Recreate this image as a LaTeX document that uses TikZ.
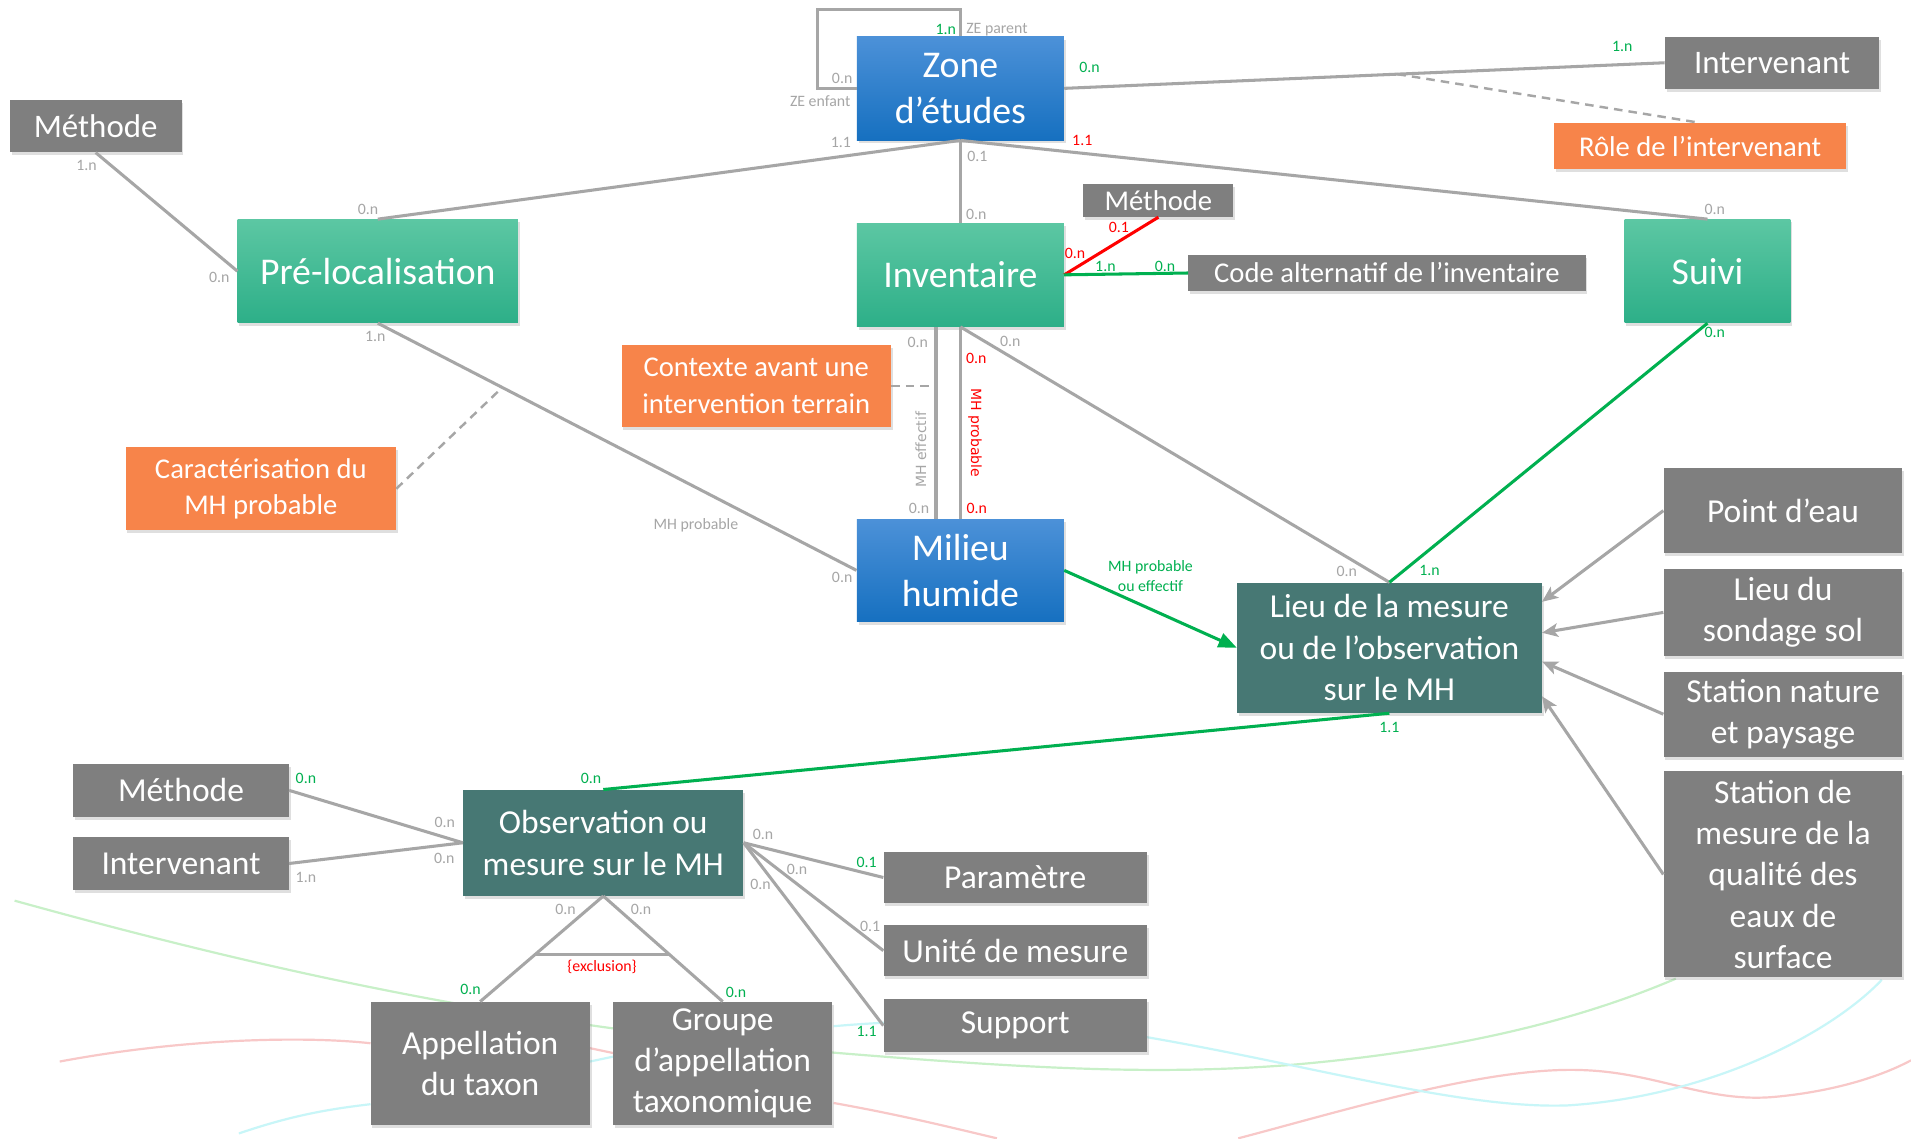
\documentclass[tikz,border=0pt]{standalone}
\usepackage{fontspec}
\setmainfont{Carlito}
\newfontfamily\vfont{DejaVu Sans}
\usetikzlibrary{shadows,arrows.meta,calc}

\definecolor{cblueT}{HTML}{4C91D8}
\definecolor{cblueB}{HTML}{1670C0}
\definecolor{cgreenT}{HTML}{5CC7A3}
\definecolor{cgreenB}{HTML}{2DAF88}
\definecolor{cteal}{HTML}{477874}
\definecolor{cgray}{HTML}{7F7F7F}
\definecolor{corange}{HTML}{F7844A}
\definecolor{lgray}{HTML}{A6A6A6}
\definecolor{lgreen}{HTML}{00B050}
\definecolor{lred}{HTML}{FF0000}
\definecolor{bggreen}{HTML}{C8F0C8}
\definecolor{bgred}{HTML}{F8C8C8}
\definecolor{bgcyan}{HTML}{C8F6F8}

\tikzset{
 ebox/.style={rectangle, inner sep=0pt, text=white, align=center,
   drop shadow={shadow xshift=1.5pt, shadow yshift=-2.5pt, opacity=0.25}},
 bluebox/.style={ebox, top color=cblueT, bottom color=cblueB, font=\fontsize{31}{38}\selectfont},
 greenbox/.style={ebox, top color=cgreenT, bottom color=cgreenB, font=\fontsize{31}{38}\selectfont},
 tealbox/.style={ebox, fill=cteal, font=\fontsize{27.5}{34}\selectfont},
 graybox/.style={ebox, fill=cgray, font=\fontsize{27.5}{34}\selectfont},
 smallgray/.style={ebox, fill=cgray, font=\fontsize{23.5}{28}\selectfont},
 orangebox/.style={ebox, fill=corange, font=\fontsize{23.5}{30}\selectfont},
 lk/.style={draw=lgray, line width=2.5pt},
 lkg/.style={draw=lgreen, line width=2.5pt},
 lkr/.style={draw=lred, line width=2.5pt},
 dsh/.style={draw=lgray, line width=2pt, dash pattern=on 7pt off 5pt},
 lbl/.style={inner sep=0pt, font=\fontsize{13}{15}\selectfont},
 lg/.style={lbl, text=lgray},
 lgn/.style={lbl, text=lgreen},
 lr/.style={lbl, text=lred},
 bgline/.style={line width=1.8pt},
 gtip/.style={-{Triangle[length=15pt,width=12pt]}},
 atip/.style={-{Stealth[length=13pt,width=11pt,inset=3pt]}},
}

\begin{document}
\begin{tikzpicture}[x=1pt,y=-1pt]
\fill[white] (0,0) rectangle (1568,934);
\useasboundingbox (0,0) rectangle (1568,934);

% faint background curves
\draw[bgline, bggreen] (12,739) .. controls (250,805) and (450,845) .. (700,865) .. controls (850,877) and (950,882) .. (1056,874) .. controls (1200,862) and (1300,835) .. (1375,803);
\draw[bgline, bgred] (49,871) .. controls (150,852) and (250,850) .. (304,856);
\draw[bgline, bgred] (484,860) -- (503,864);
\draw[bgline, bgred] (684,905) .. controls (740,915) and (780,925) .. (818,934);
\draw[bgline, bgred] (1016,934) .. controls (1100,912) and (1220,875) .. (1298,878) .. controls (1360,880) and (1400,905) .. (1456,900) .. controls (1500,896) and (1540,885) .. (1568,870);
\draw[bgline, bgcyan] (196,930) .. controls (240,915) and (270,910) .. (304,906);
\draw[bgline, bgcyan] (484,871) -- (503,867);
\draw[bgline, bgcyan] (684,842) .. controls (800,832) and (880,842) .. (941,851) .. controls (1080,875) and (1200,910) .. (1286,907) .. controls (1400,900) and (1500,850) .. (1544,804);

% nodes
\node[bluebox, minimum width=170pt, minimum height=85pt] (zone) at (788,72.5) {Zone\\d’études};
\node[graybox, font=\fontsize{27}{32}\selectfont, minimum width=176pt, minimum height=43pt] (intTop) at (1454,51.5) {Intervenant};
\node[orangebox, minimum width=240pt, minimum height=38pt] (role) at (1395,120) {Rôle de l’intervenant};
\node[graybox, font=\fontsize{27}{32}\selectfont, minimum width=141pt, minimum height=43pt] (methTL) at (78.5,103.5) {Méthode};
\node[greenbox, minimum width=230pt, minimum height=85pt] (preloc) at (310,222.5) {Pré-localisation};
\node[greenbox, minimum width=170pt, minimum height=85pt] (invent) at (788,225.5) {Inventaire};
\node[smallgray, minimum width=123pt, minimum height=27pt] (methInv) at (950.5,164.5) {Méthode};
\node[smallgray, minimum width=326pt, minimum height=30pt] (code) at (1138,224) {Code alternatif de l’inventaire};
\node[greenbox, minimum width=136pt, minimum height=85pt] (suivi) at (1401,222.5) {Suivi};
\node[orangebox, minimum width=221pt, minimum height=67pt] (contexte) at (620.5,316.5) {Contexte avant une\\intervention terrain};
\node[orangebox, minimum width=222pt, minimum height=68pt] (carac) at (214,401) {Caractérisation du\\MH probable};
\node[bluebox, minimum width=170pt, minimum height=84pt] (milieu) at (788,468) {Milieu\\humide};
\node[tealbox, minimum width=250pt, minimum height=107pt] (lieu) at (1140,531.5) {Lieu de la mesure\\ou de l’observation\\sur le MH};
\node[graybox, minimum width=196pt, minimum height=70pt] (ptEau) at (1463,419) {Point d’eau};
\node[graybox, minimum width=196pt, minimum height=71pt] (sondage) at (1463,502.5) {Lieu du\\sondage sol};
\node[graybox, minimum width=196pt, minimum height=70pt] (stNat) at (1463,586) {Station nature\\et paysage};
\node[graybox, minimum width=196pt, minimum height=169pt] (stMes) at (1463,717.5) {Station de\\mesure de la\\qualité des\\eaux de\\surface};
\node[graybox, minimum width=177pt, minimum height=43pt] (methBL) at (148.5,648.5) {Méthode};
\node[graybox, minimum width=177pt, minimum height=43pt] (intBL) at (148.5,708.5) {Intervenant};
\node[tealbox, minimum width=230pt, minimum height=87pt] (obs) at (495,691.5) {Observation ou\\mesure sur le MH};
\node[graybox, minimum width=216pt, minimum height=42pt] (param) at (833,720) {Paramètre};
\node[graybox, minimum width=216pt, minimum height=42pt] (unite) at (833,780) {Unité de mesure};
\node[graybox, minimum width=216pt, minimum height=43pt] (support) at (833,841.5) {Support};
\node[graybox, minimum width=180pt, minimum height=101pt] (appel) at (394,872.5) {Appellation\\du taxon};
\node[graybox, minimum width=180pt, minimum height=101pt] (groupe) at (593,872.5) {Groupe\\d’appellation\\taxonomique};

% connectors
\draw[lk] (zone.north) |- (671,8) |- (zone.west);
\draw[lk] (zone.east) -- coordinate[pos=0.555] (ziMid) (intTop.west);
\draw[dsh] (ziMid) -- (role.north);
\draw[lk] (zone.south) -- (preloc.north);
\draw[lk] (zone.south) -- (invent.north);
\draw[lk] (zone.south) -- (suivi.north);
\draw[lk] (methTL.south) -- (preloc.west);
\draw[lk] (preloc.south) -- coordinate[pos=0.26] (pmMid) (milieu.west);
\draw[dsh] (carac.east) -- (pmMid);
\draw[lk] ($(invent.south)+(-20,0)$) -- ($(milieu.north)+(-20,0)$);
\draw[lk] (invent.south) -- (milieu.north);
\draw[dsh] (contexte.east) -- ($(contexte.east)+(34,0)$);
\draw[lk] (invent.south) -- (lieu.north);
\draw[lkr] (invent.east) -- (methInv.south);
\draw[lkg] (invent.east) -- (code.west);
\draw[lkg, gtip] (milieu.east) -- (lieu.west);
\draw[lkg] (lieu.north) -- (suivi.south);
\draw[lkg] (lieu.south) -- (obs.north);
\draw[lk, atip] (ptEau.west) -- ([yshift=37.7pt]lieu.east);
\draw[lk, atip] (sondage.west) -- ([yshift=12.3pt]lieu.east);
\draw[lk, atip] (stNat.west) -- ([yshift=-11.3pt]lieu.east);
\draw[lk, atip] (stMes.west) -- ([yshift=-39.8pt]lieu.east);
\draw[lk] (methBL.east) -- (obs.west);
\draw[lk] (intBL.east) -- (obs.west);
\draw[lk] (obs.east) -- (param.west);
\draw[lk] (obs.east) -- (unite.west);
\draw[lk] (obs.east) -- (support.west);
\draw[lk] (obs.south) -- coordinate[pos=0.555] (exA) (appel.north);
\draw[lk] (obs.south) -- coordinate[pos=0.555] (exB) (groupe.north);
\draw[draw=lgray, line width=2pt] (exA) -- (exB);

% labels
\node[lgn] (l1) at (776,24.5) {1.n};
\node[lg] (l2) at (818,24.5) {ZE parent};
\node[lg] (l3) at (691,64) {0.n};
\node[lg] (l4) at (673,83) {ZE enfant};
\node[lgn] (l5) at (894,55) {0.n};
\node[lgn] (l6) at (1331,38) {1.n};
\node[lg] (l7) at (690,117) {1.1};
\node[lg] (l8) at (802,128) {0.1};
\node[lr] (l9) at (888,115) {1.1};
\node[lg] (l10) at (302,172) {0.n};
\node[lg] (l11) at (801,176) {0.n};
\node[lg] (l12) at (1407,172) {0.n};
\node[lg] (l13) at (71,136) {1.n};
\node[lg] (l14) at (180,228) {0.n};
\node[lr] (l15) at (918,187) {0.1};
\node[lr] (l16) at (882,208) {0.n};
\node[lgn] (l17) at (907,219) {1.n};
\node[lgn] (l18) at (956,219) {0.n};
\node[lg] (l19) at (308,276) {1.n};
\node[lg] (l20) at (753,281) {0.n};
\node[lr] (l21) at (801,294) {0.n};
\node[lg] (l22) at (829,280) {0.n};
\node[inner sep=0pt, rotate=90, text=lgray, font=\vfont\fontsize{11.5}{13}\selectfont] (l23) at (755.5,369) {MH effectif};
\node[inner sep=0pt, rotate=-90, text=lred, font=\vfont\fontsize{11.5}{13}\selectfont] (l24) at (800,355) {MH probable};
\node[lg] (l25) at (754,417) {0.n};
\node[lr] (l26) at (801.5,417.5) {0.n};
\node[lg] (l27) at (571,431) {MH probable};
\node[lg] (l28) at (691,474) {0.n};
\node[lgn, align=center, font=\fontsize{13}{16.5}\selectfont] (l29) at (944,472.5) {MH probable\\ou effectif};
\node[lg] (l30) at (1105,469) {0.n};
\node[lgn] (l31) at (1173,468) {1.n};
\node[lgn] (l32) at (1407,273) {0.n};
\node[lgn] (l33) at (1140,597) {1.1};
\node[lgn] (l34) at (485,639) {0.n};
\node[lgn] (l35) at (251,639) {0.n};
\node[lg] (l36) at (365,675) {0.n};
\node[lg] (l37) at (364.5,704) {0.n};
\node[lg] (l38) at (251,720) {1.n};
\node[lg] (l39) at (626,685) {0.n};
\node[lg] (l40) at (654,713) {0.n};
\node[lg] (l41) at (624,726) {0.n};
\node[lgn] (l42) at (711,708) {0.1};
\node[lg] (l43) at (714,760) {0.1};
\node[lgn] (l44) at (711,846.5) {1.1};
\node[lg] (l45) at (464,746) {0.n};
\node[lg] (l46) at (526,746.5) {0.n};
\node[lgn] (l47) at (386,812) {0.n};
\node[lgn] (l48) at (604,814) {0.n};
\node[lr] (l49) at (494,793) {\{exclusion\}};
\end{tikzpicture}
\end{document}
